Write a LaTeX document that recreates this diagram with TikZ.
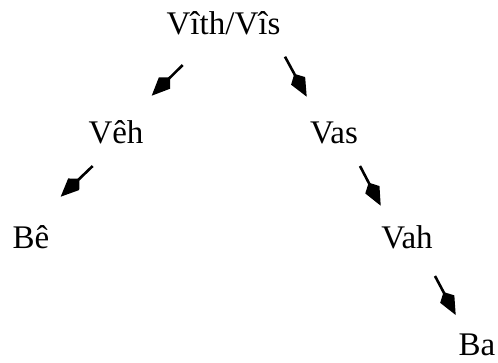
\documentclass[tikz,border=0pt]{standalone}
\usepackage{fontspec}
\setmainfont{Liberation Serif}
\usetikzlibrary{arrows.meta}
\begin{document}
\begin{tikzpicture}[x=1pt,y=-1pt,
  lbl/.style={anchor=base,inner sep=0pt,font=\fontsize{33}{40}\selectfont},
  conn/.style={line width=2.6pt,-{Kite[length=26pt,width=16pt,inset=8pt]}}]
\useasboundingbox (0,0) rectangle (498,362);
\node[lbl] (root) at (223.5,34) {Vîth/Vîs};
\node[lbl] (veh) at (116,143) {Vêh};
\node[lbl] (vas) at (334,143) {Vas};
\node[lbl] (be) at (31,248) {Bê};
\node[lbl] (vah) at (407,248) {Vah};
\node[lbl] (ba) at (477,355) {Ba};
\coordinate (a1s) at (182.7,65);  \coordinate (a1e) at (151.7,95.7);
\coordinate (a2s) at (285,56.7);  \coordinate (a2e) at (306.7,96.7);
\coordinate (a3s) at (92.7,166);  \coordinate (a3e) at (60.7,196.7);
\coordinate (a4s) at (360,166);   \coordinate (a4e) at (380.7,205.7);
\coordinate (a5s) at (435,276);   \coordinate (a5e) at (455.7,315);
\draw[conn] (a1s) -- (a1e);
\draw[conn] (a2s) -- (a2e);
\draw[conn] (a3s) -- (a3e);
\draw[conn] (a4s) -- (a4e);
\draw[conn] (a5s) -- (a5e);
\end{tikzpicture}
\end{document}
